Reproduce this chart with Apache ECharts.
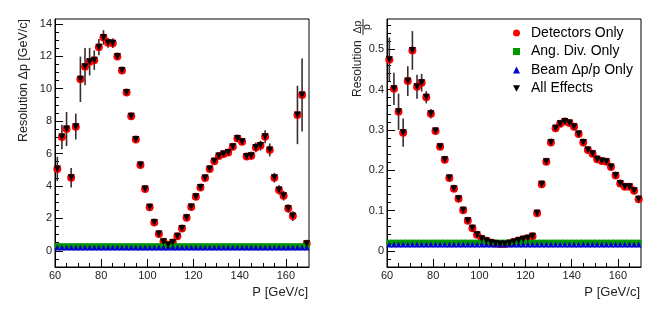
<!DOCTYPE html>
<html>
<head>
<meta charset="utf-8">
<script src="https://cdn.jsdelivr.net/npm/echarts@6/dist/echarts.min.js"></script>
<style>html,body{margin:0;padding:0;background:#fff;}#c{width:664px;height:317px;}</style>
</head>
<body>
<div id="c"></div>
<script>
// Bin centres (P in GeV/c)
const momentum = [61,63,65,67,69,71,73,75,77,79,81,83,85,87,89,91,93,95,97,99,101,103,105,107,109,111,113,115,117,119,121,123,125,127,129,131,133,135,137,139,141,143,145,147,149,151,153,155,157,159,161,163,165,167,169];

// Left panel: absolute resolution Δp [GeV/c]
const allEffectsDp = [5.05,7.02,7.51,4.51,7.66,10.58,11.36,11.67,11.76,12.56,13.16,12.83,12.81,11.98,11.12,9.76,8.30,6.86,5.29,3.81,2.68,1.75,1.03,0.56,0.35,0.51,0.89,1.38,2.04,2.70,3.34,3.91,4.49,5.04,5.52,5.85,5.97,6.07,6.42,6.92,6.73,5.81,5.87,6.38,6.49,7.04,6.22,4.51,3.75,3.40,2.61,2.14,8.38,9.61,0.43];
const allEffectsDpErr = [0.75,0.75,1.05,0.6,0.8,1.4,1.15,0.85,0.6,0.5,0.45,0.3,0.3,0.15,0.1,0.1,0.08,0.08,0.08,0.06,0.06,0.05,0.05,0.05,0.05,0.05,0.05,0.05,0.05,0.05,0.05,0.06,0.06,0.06,0.07,0.07,0.08,0.08,0.1,0.12,0.15,0.2,0.25,0.3,0.3,0.4,0.4,0.3,0.3,0.3,0.25,0.3,1.8,2.25,0.1];
const detectorsDp = [5.05,7.02,7.51,4.51,7.66,10.58,11.36,11.67,11.76,12.56,13.16,12.83,12.81,11.98,11.12,9.76,8.30,6.86,5.29,3.81,2.68,1.75,1.03,0.56,0.35,0.51,0.89,1.38,2.04,2.70,3.34,3.91,4.49,5.04,5.52,5.85,5.97,6.07,6.42,6.92,6.73,5.81,5.87,6.38,6.49,7.04,6.22,4.51,3.75,3.40,2.61,2.14,8.38,9.61,0.43];
const angDivDp = [0.3,0.3,0.3,0.3,0.3,0.3,0.3,0.3,0.3,0.3,0.3,0.3,0.3,0.3,0.3,0.3,0.3,0.3,0.3,0.3,0.3,0.3,0.3,0.3,0.3,0.3,0.3,0.3,0.3,0.3,0.3,0.3,0.3,0.3,0.3,0.3,0.3,0.3,0.3,0.3,0.3,0.3,0.3,0.3,0.3,0.3,0.3,0.3,0.3,0.3,0.3,0.3,0.3,0.3,0.3];
const beamDp = [0.2,0.2,0.2,0.2,0.2,0.2,0.2,0.2,0.2,0.2,0.2,0.2,0.2,0.2,0.2,0.2,0.2,0.2,0.2,0.2,0.2,0.2,0.2,0.2,0.2,0.2,0.2,0.2,0.2,0.2,0.2,0.2,0.2,0.2,0.2,0.2,0.2,0.2,0.2,0.2,0.2,0.2,0.2,0.2,0.2,0.2,0.2,0.2,0.2,0.2,0.2,0.2,0.2,0.2,0.2];

// Right panel: relative resolution Δp/p
const allEffectsDpp = [0.474,0.402,0.345,0.293,0.421,0.497,0.407,0.417,0.381,0.340,0.297,0.258,0.226,0.181,0.154,0.129,0.101,0.075,0.056,0.040,0.030,0.025,0.021,0.018,0.017,0.017,0.019,0.022,0.026,0.029,0.031,0.036,0.093,0.165,0.221,0.269,0.304,0.315,0.321,0.317,0.308,0.290,0.269,0.250,0.241,0.227,0.223,0.221,0.208,0.187,0.167,0.159,0.159,0.149,0.128];
const allEffectsDppErr = [0.055,0.04,0.045,0.035,0.037,0.048,0.03,0.022,0.015,0.012,0.006,0.004,0.004,0.003,0.003,0.003,0.002,0.002,0.002,0.002,0.002,0.002,0.002,0.002,0.002,0.002,0.002,0.002,0.002,0.002,0.002,0.002,0.002,0.002,0.002,0.002,0.002,0.002,0.002,0.002,0.002,0.002,0.002,0.002,0.002,0.002,0.002,0.002,0.002,0.002,0.002,0.002,0.002,0.002,0.002];
const detectorsDpp = [0.474,0.402,0.345,0.293,0.421,0.497,0.407,0.417,0.381,0.340,0.297,0.258,0.226,0.181,0.154,0.129,0.101,0.075,0.056,0.040,0.030,0.025,0.021,0.018,0.017,0.017,0.019,0.022,0.026,0.029,0.031,0.036,0.093,0.165,0.221,0.269,0.304,0.315,0.321,0.317,0.308,0.290,0.269,0.250,0.241,0.227,0.223,0.221,0.208,0.187,0.167,0.159,0.159,0.149,0.128];
const angDivDpp = [0.021,0.021,0.021,0.021,0.021,0.021,0.021,0.021,0.021,0.021,0.021,0.021,0.021,0.021,0.021,0.021,0.021,0.021,0.021,0.021,0.021,0.021,0.021,0.021,0.021,0.021,0.021,0.021,0.021,0.021,0.021,0.021,0.021,0.021,0.021,0.021,0.021,0.021,0.021,0.021,0.021,0.021,0.021,0.021,0.021,0.021,0.021,0.021,0.021,0.021,0.021,0.021,0.021,0.021,0.021];
const beamDpp = [0.016,0.016,0.016,0.016,0.016,0.016,0.016,0.016,0.016,0.016,0.016,0.016,0.016,0.016,0.016,0.016,0.016,0.016,0.016,0.016,0.016,0.016,0.016,0.016,0.016,0.016,0.016,0.016,0.016,0.016,0.016,0.016,0.016,0.016,0.016,0.016,0.016,0.016,0.016,0.016,0.016,0.016,0.016,0.016,0.016,0.016,0.016,0.016,0.016,0.016,0.016,0.016,0.016,0.016,0.016];

// Ticks
const xMajorTicks = [60,80,100,120,140,160];
const xMinorTicks = [65,70,75,85,90,95,105,110,115,125,130,135,145,150,155,165];
const yLeftMajorTicks = [0,2,4,6,8,10,12,14];
const yLeftMinorTicks = [-0.5,0.5,1,1.5,2.5,3,3.5,4.5,5,5.5,6.5,7,7.5,8.5,9,9.5,10.5,11,11.5,12.5,13,13.5];
const yRightMajorTicks = [0,0.1,0.2,0.3,0.4,0.5];
const yRightMinorTicks = [-0.02,0.02,0.04,0.06,0.08,0.12,0.14,0.16,0.18,0.22,0.24,0.26,0.28,0.32,0.34,0.36,0.38,0.42,0.44,0.46,0.48,0.52,0.54,0.56];

const seriesNames = ['Detectors Only','Ang. Div. Only','Beam Δp/p Only','All Effects'];
const FONT = '"Liberation Sans", Arial, Helvetica, sans-serif';
const DOWN_TRI = 'path://M0,0L10,0L5,9Z';

function mainX(grid){return {gridIndex:grid,type:'value',min:60,max:170,position:'bottom',
  axisLine:{show:true,onZero:false,lineStyle:{color:'#000',width:1}},splitLine:{show:false},
  axisTick:{show:true,inside:true,length:8,customValues:xMajorTicks,lineStyle:{color:'#000'}},
  axisLabel:{show:true,customValues:xMajorTicks,margin:3,fontSize:11,color:'#222',fontFamily:FONT}};}
function minorX(grid){return {gridIndex:grid,type:'value',min:60,max:170,position:'bottom',
  axisLine:{show:false,onZero:false},splitLine:{show:false},
  axisTick:{show:true,inside:true,length:4,customValues:xMinorTicks,lineStyle:{color:'#000'}},
  axisLabel:{show:false}};}
function mainY(grid,min,max,ticks){return {gridIndex:grid,type:'value',min:min,max:max,position:'left',
  axisLine:{show:true,onZero:false,lineStyle:{color:'#000',width:1}},splitLine:{show:false},
  axisTick:{show:true,inside:true,length:8,customValues:ticks,lineStyle:{color:'#000'}},
  axisLabel:{show:true,customValues:ticks,margin:3,fontSize:11,color:'#222',fontFamily:FONT}};}
function minorY(grid,min,max,ticks){return {gridIndex:grid,type:'value',min:min,max:max,position:'left',
  axisLine:{show:false,onZero:false},splitLine:{show:false},
  axisTick:{show:true,inside:true,length:4,customValues:ticks,lineStyle:{color:'#000'}},
  axisLabel:{show:false}};}

function errSeries(xi,yi,vals,errs){
  return {type:'custom',xAxisIndex:xi,yAxisIndex:yi,silent:true,z:1,clip:true,
    data:momentum.map((x,i)=>[x,vals[i]-errs[i],vals[i]+errs[i]]),
    renderItem:function(params,api){
      const a=api.coord([api.value(0),api.value(1)]);
      const b=api.coord([api.value(0),api.value(2)]);
      return {type:'line',shape:{x1:a[0],y1:a[1],x2:b[0],y2:b[1]},style:{stroke:'#3a2c2c',lineWidth:1.6}};
    }};
}
function pts(name,xi,yi,vals,symbol,size,color,z){
  return {name:name,type:'scatter',xAxisIndex:xi,yAxisIndex:yi,symbol:symbol,symbolSize:size,z:z,
    itemStyle:{color:color,opacity:1},emphasis:{disabled:true},
    data:momentum.map((x,i)=>[x,vals[i]])};
}

const chart = echarts.init(document.getElementById('c'),null,{renderer:'canvas'});
chart.setOption({
  animation:false,
  backgroundColor:'#fff',
  textStyle:{fontFamily:FONT},
  grid:[
    {left:55,right:355,top:19,bottom:50,show:true,borderColor:'#000',borderWidth:1,backgroundColor:'transparent'},
    {left:387,right:23,top:19,bottom:50,show:true,borderColor:'#000',borderWidth:1,backgroundColor:'transparent'}
  ],
  xAxis:[mainX(0),minorX(0),mainX(1),minorX(1)],
  yAxis:[mainY(0,-1,14.3,yLeftMajorTicks),minorY(0,-1,14.3,yLeftMinorTicks),
         mainY(1,-0.04,0.575,yRightMajorTicks),minorY(1,-0.04,0.575,yRightMinorTicks)],
  legend:{orient:'vertical',left:508,top:21,itemWidth:7,itemHeight:7,itemGap:4.5,
    selectedMode:false,
    textStyle:{fontSize:14,lineHeight:14,color:'#000',fontFamily:FONT,padding:[0,0,0,6]},
    data:seriesNames},
  series:[
    errSeries(0,0,allEffectsDp,allEffectsDpErr),
    pts(seriesNames[0],0,0,detectorsDp,'circle',8,'#ff0000',2),
    pts(seriesNames[1],0,0,angDivDp,'rect',5.5,'#009900',3),
    pts(seriesNames[2],0,0,beamDp,'triangle',6,'#0000cc',4),
    pts(seriesNames[3],0,0,allEffectsDp,DOWN_TRI,7,'#000000',5),
    errSeries(2,2,allEffectsDpp,allEffectsDppErr),
    pts(seriesNames[0],2,2,detectorsDpp,'circle',8,'#ff0000',2),
    pts(seriesNames[1],2,2,angDivDpp,'rect',5.5,'#009900',3),
    pts(seriesNames[2],2,2,beamDpp,'triangle',6,'#0000cc',4),
    pts(seriesNames[3],2,2,allEffectsDpp,DOWN_TRI,7,'#000000',5)
  ],
  graphic:[
    {type:'text',x:308,y:292,style:{text:'P [GeV/c]',font:'13px '+FONT,fill:'#222',align:'right',verticalAlign:'middle'}},
    {type:'text',x:640,y:292,style:{text:'P [GeV/c]',font:'13px '+FONT,fill:'#222',align:'right',verticalAlign:'middle'}},
    {type:'text',x:24,y:142,rotation:Math.PI/2,style:{text:'Resolution Δp [GeV/c]',font:'12.5px '+FONT,fill:'#222',align:'left',verticalAlign:'middle'}},
    {type:'group',x:363,y:97,rotation:Math.PI/2,children:[
      {type:'text',x:0,y:-5,style:{text:'Resolution',font:'12px '+FONT,fill:'#222',align:'left',verticalAlign:'middle'}},
      {type:'text',x:70,y:-4.5,style:{text:'Δp',font:'10.5px '+FONT,fill:'#222',align:'center',verticalAlign:'middle'}},
      {type:'line',shape:{x1:62,y1:0,x2:78,y2:0},style:{stroke:'#222',lineWidth:1}},
      {type:'text',x:70,y:4.5,style:{text:'p',font:'10.5px '+FONT,fill:'#222',align:'center',verticalAlign:'middle'}}
    ]}
  ]
});
</script>
</body>
</html>
